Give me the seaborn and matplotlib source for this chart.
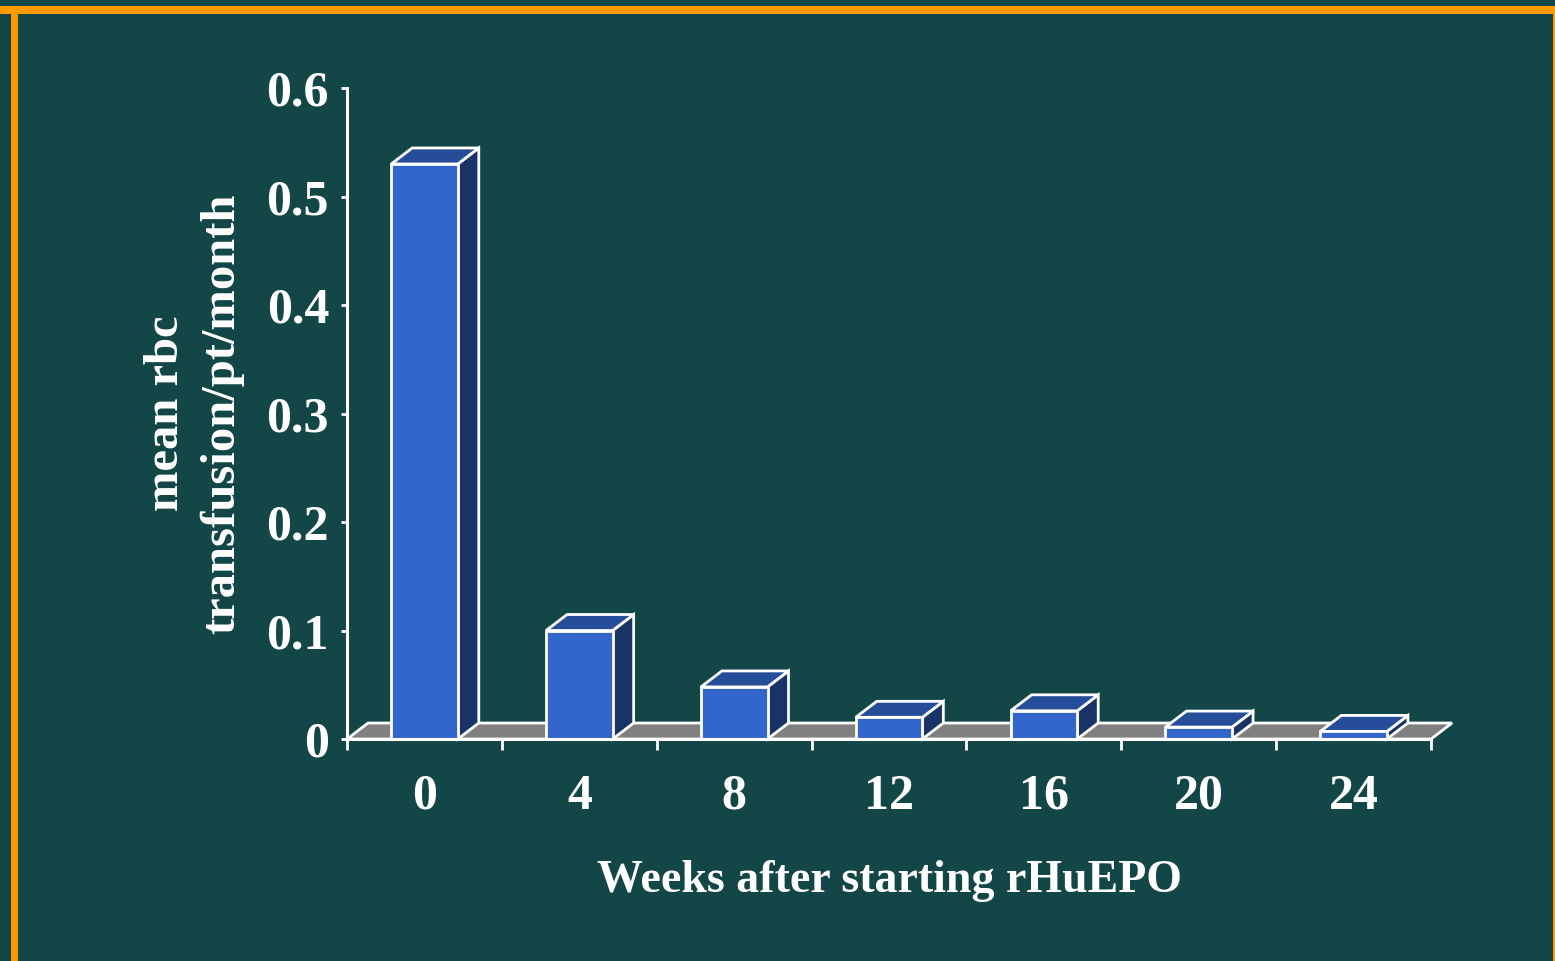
import matplotlib
matplotlib.use('Agg')
import matplotlib.pyplot as plt
from matplotlib.patches import Polygon, Rectangle
import seaborn as sns
import pandas as pd

weeks = ['0', '4', '8', '12', '16', '20', '24']
transfusions = [0.53, 0.10, 0.048, 0.020, 0.026, 0.011, 0.007]
y_ticks = [0, 0.1, 0.2, 0.3, 0.4, 0.5, 0.6]
y_tick_labels = ['0', '0.1', '0.2', '0.3', '0.4', '0.5', '0.6']

BG = '#134646'
ORANGE = '#FF9900'
FRONT = '#3366CC'
TOP = '#264D99'
SIDE = '#1A3366'
FLOOR = '#808080'

plt.rcParams['font.family'] = ['Liberation Serif', 'DejaVu Serif']
plt.rcParams['font.weight'] = 'bold'

df = pd.DataFrame({'week': weeks, 'rbc': transfusions})

fig = plt.figure(figsize=(15.55, 9.61), dpi=100, facecolor=BG)
ax = fig.add_axes([0.2232, 0.2310, 0.6971, 0.6774])
ax.set_facecolor(BG)

sns.barplot(data=df, x='week', y='rbc', color=FRONT, saturation=1, width=0.43,
            edgecolor='white', linewidth=2, ax=ax, zorder=3)

ax.set_xlim(-0.5, 6.5)
ax.set_ylim(0, 0.6)

# depth of the fake 3d effect (data units)
dx = 21 / 154.9
dy = 16 / 1085.5

floor = Polygon([(-0.5, 0), (6.5, 0), (6.5 + dx, dy), (-0.5 + dx, dy)], closed=True,
                facecolor=FLOOR, edgecolor='white', linewidth=2, zorder=1, clip_on=False)
ax.add_patch(floor)

for p in list(ax.patches):
    if p is floor:
        continue
    x0 = p.get_x()
    x1 = x0 + p.get_width()
    h = p.get_height()
    side = Polygon([(x1, 0), (x1 + dx, dy), (x1 + dx, h + dy), (x1, h)], closed=True,
                   facecolor=SIDE, edgecolor='white', linewidth=2, zorder=2.9, clip_on=False)
    top = Polygon([(x0, h), (x1, h), (x1 + dx, h + dy), (x0 + dx, h + dy)], closed=True,
                  facecolor=TOP, edgecolor='white', linewidth=2, zorder=2.9, clip_on=False)
    ax.add_patch(side)
    ax.add_patch(top)

for s in ['top', 'right']:
    ax.spines[s].set_visible(False)
for s in ['left', 'bottom']:
    ax.spines[s].set_color('white')
    ax.spines[s].set_linewidth(2.2)
    ax.spines[s].set_zorder(4)

ax.set_yticks(y_ticks)
ax.set_yticklabels(y_tick_labels)
ax.tick_params(axis='y', colors='white', length=4, width=2, pad=9, labelsize=36)

ax.set_xticks(range(len(weeks)))
ax.set_xticklabels(weeks)
ax.tick_params(axis='x', which='major', length=0, pad=25, colors='white', labelsize=36)
ax.set_xticks([i - 0.5 for i in range(len(weeks) + 1)], minor=True)
ax.tick_params(axis='x', which='minor', length=8, width=2, color='white')

ax.set_xlabel('Weeks after starting rHuEPO', color='white', fontsize=33, fontweight='bold', labelpad=29)
ax.set_ylabel('mean rbc\ntransfusion/pt/month', color='white', fontsize=35, fontweight='bold',
              linespacing=1.35)
ax.yaxis.set_label_coords(-0.095, 0.5)

# orange frame
fig.patches.append(Rectangle((0, 1 - 14 / 961), 1, 8 / 961, transform=fig.transFigure,
                             facecolor=ORANGE, edgecolor='none'))
fig.patches.append(Rectangle((11 / 1555, 0), 7 / 1555, 1 - 6 / 961, transform=fig.transFigure,
                             facecolor=ORANGE, edgecolor='none'))
fig.patches.append(Rectangle((1553 / 1555, 0), 2 / 1555, 1 - 6 / 961, transform=fig.transFigure,
                             facecolor=ORANGE, edgecolor='none'))

fig.savefig('out.png', dpi=100, facecolor=BG)
